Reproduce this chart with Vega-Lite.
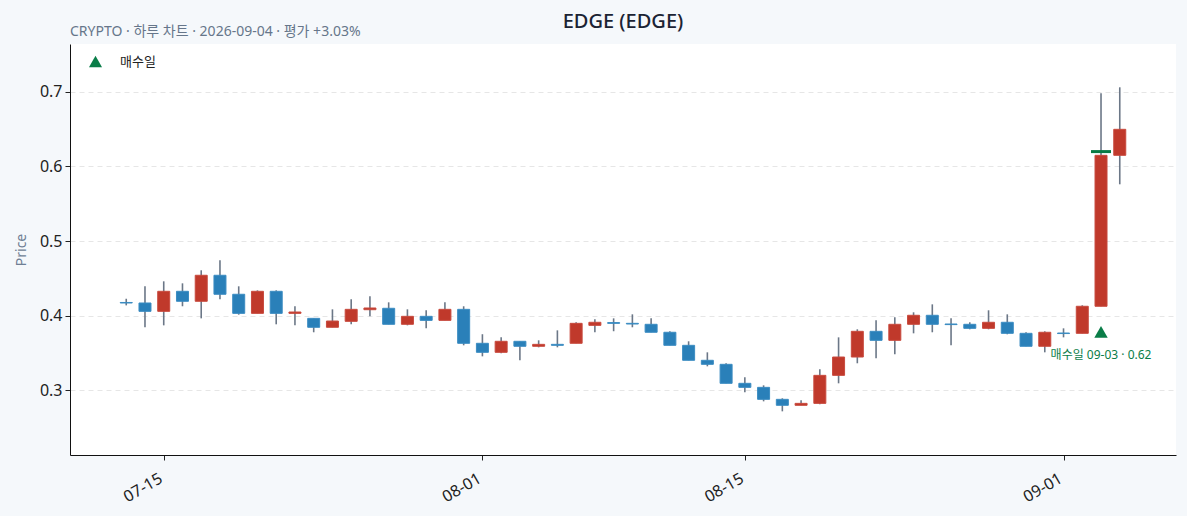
{
  "$schema": "https://vega.github.io/schema/vega-lite/v6.json",
  "autosize": {"type": "none"},
  "padding": {"left": 70, "top": 44, "right": 11, "bottom": 61},
  "width": 1106,
  "height": 411,
  "background": "#f5f8fb",
  "config": {
    "font": "Noto Sans, Noto Sans CJK KR, sans-serif",
    "view": {"fill": "#ffffff", "stroke": null}
  },
  "title": {
    "text": "EDGE (EDGE)",
    "subtitle": "CRYPTO · 하루 차트 · 2026-09-04 · 평가 +3.03%",
    "anchor": "start",
    "frame": "group",
    "fontSize": 20,
    "fontWeight": 500,
    "color": "#1b2333",
    "subtitleFontSize": 14,
    "subtitleColor": "#66768a",
    "subtitlePadding": -7,
    "offset": 5,
    "encoding": {"x": {"value": 553}, "align": {"value": "center"}}
  },
  "datasets": {
    "ohlc": [
      {"date": "2026-07-13", "open": 0.4175, "high": 0.4225, "low": 0.4136, "close": 0.4168},
      {"date": "2026-07-14", "open": 0.4168, "high": 0.4392, "low": 0.3842, "close": 0.4056},
      {"date": "2026-07-15", "open": 0.4056, "high": 0.4459, "low": 0.3868, "close": 0.4325},
      {"date": "2026-07-16", "open": 0.4325, "high": 0.4432, "low": 0.4124, "close": 0.4191},
      {"date": "2026-07-17", "open": 0.4191, "high": 0.4607, "low": 0.3962, "close": 0.4540},
      {"date": "2026-07-18", "open": 0.4540, "high": 0.4741, "low": 0.4217, "close": 0.4285},
      {"date": "2026-07-19", "open": 0.4285, "high": 0.4392, "low": 0.4011, "close": 0.4029},
      {"date": "2026-07-20", "open": 0.4029, "high": 0.4338, "low": 0.4029, "close": 0.4325},
      {"date": "2026-07-21", "open": 0.4325, "high": 0.4338, "low": 0.3882, "close": 0.4029},
      {"date": "2026-07-22", "open": 0.4029, "high": 0.4124, "low": 0.3868, "close": 0.4047},
      {"date": "2026-07-23", "open": 0.3962, "high": 0.3962, "low": 0.3775, "close": 0.3842},
      {"date": "2026-07-24", "open": 0.3842, "high": 0.4083, "low": 0.3842, "close": 0.3926},
      {"date": "2026-07-25", "open": 0.3922, "high": 0.4217, "low": 0.3882, "close": 0.4083},
      {"date": "2026-07-26", "open": 0.4078, "high": 0.4258, "low": 0.3989, "close": 0.4101},
      {"date": "2026-07-27", "open": 0.4097, "high": 0.4177, "low": 0.3882, "close": 0.3882},
      {"date": "2026-07-28", "open": 0.3882, "high": 0.4083, "low": 0.3868, "close": 0.3989},
      {"date": "2026-07-29", "open": 0.3989, "high": 0.4070, "low": 0.3828, "close": 0.3935},
      {"date": "2026-07-30", "open": 0.3935, "high": 0.4177, "low": 0.3935, "close": 0.4083},
      {"date": "2026-07-31", "open": 0.4083, "high": 0.4124, "low": 0.3600, "close": 0.3627},
      {"date": "2026-08-01", "open": 0.3627, "high": 0.3749, "low": 0.3452, "close": 0.3506},
      {"date": "2026-08-02", "open": 0.3506, "high": 0.3707, "low": 0.3493, "close": 0.3654},
      {"date": "2026-08-03", "open": 0.3654, "high": 0.3654, "low": 0.3399, "close": 0.3587},
      {"date": "2026-08-04", "open": 0.3587, "high": 0.3667, "low": 0.3573, "close": 0.3613},
      {"date": "2026-08-05", "open": 0.3613, "high": 0.3801, "low": 0.3573, "close": 0.3600},
      {"date": "2026-08-06", "open": 0.3627, "high": 0.3909, "low": 0.3627, "close": 0.3895},
      {"date": "2026-08-07", "open": 0.3868, "high": 0.3949, "low": 0.3775, "close": 0.3909},
      {"date": "2026-08-08", "open": 0.3905, "high": 0.3962, "low": 0.3789, "close": 0.3895},
      {"date": "2026-08-09", "open": 0.3895, "high": 0.4016, "low": 0.3842, "close": 0.3886},
      {"date": "2026-08-10", "open": 0.3882, "high": 0.3962, "low": 0.3775, "close": 0.3775},
      {"date": "2026-08-11", "open": 0.3775, "high": 0.3789, "low": 0.3600, "close": 0.3600},
      {"date": "2026-08-12", "open": 0.3600, "high": 0.3654, "low": 0.3399, "close": 0.3399},
      {"date": "2026-08-13", "open": 0.3399, "high": 0.3506, "low": 0.3318, "close": 0.3345},
      {"date": "2026-08-14", "open": 0.3345, "high": 0.3359, "low": 0.3090, "close": 0.3090},
      {"date": "2026-08-15", "open": 0.3090, "high": 0.3170, "low": 0.2969, "close": 0.3036},
      {"date": "2026-08-16", "open": 0.3036, "high": 0.3063, "low": 0.2848, "close": 0.2875},
      {"date": "2026-08-17", "open": 0.2875, "high": 0.2889, "low": 0.2714, "close": 0.2795},
      {"date": "2026-08-18", "open": 0.2795, "high": 0.2862, "low": 0.2795, "close": 0.2821},
      {"date": "2026-08-19", "open": 0.2821, "high": 0.3278, "low": 0.2808, "close": 0.3197},
      {"date": "2026-08-20", "open": 0.3197, "high": 0.3707, "low": 0.3090, "close": 0.3443},
      {"date": "2026-08-21", "open": 0.3443, "high": 0.3815, "low": 0.3359, "close": 0.3788},
      {"date": "2026-08-22", "open": 0.3788, "high": 0.3935, "low": 0.3426, "close": 0.3667},
      {"date": "2026-08-23", "open": 0.3667, "high": 0.3976, "low": 0.3479, "close": 0.3882},
      {"date": "2026-08-24", "open": 0.3882, "high": 0.4043, "low": 0.3761, "close": 0.4003},
      {"date": "2026-08-25", "open": 0.4003, "high": 0.4150, "low": 0.3775, "close": 0.3882},
      {"date": "2026-08-26", "open": 0.3886, "high": 0.3962, "low": 0.3600, "close": 0.3878},
      {"date": "2026-08-27", "open": 0.3882, "high": 0.3909, "low": 0.3815, "close": 0.3828},
      {"date": "2026-08-28", "open": 0.3828, "high": 0.4070, "low": 0.3815, "close": 0.3909},
      {"date": "2026-08-29", "open": 0.3909, "high": 0.4016, "low": 0.3748, "close": 0.3761},
      {"date": "2026-08-30", "open": 0.3761, "high": 0.3775, "low": 0.3587, "close": 0.3587},
      {"date": "2026-08-31", "open": 0.3587, "high": 0.3788, "low": 0.3506, "close": 0.3775},
      {"date": "2026-09-01", "open": 0.3765, "high": 0.3828, "low": 0.3707, "close": 0.3758},
      {"date": "2026-09-02", "open": 0.3761, "high": 0.4137, "low": 0.3761, "close": 0.4124},
      {"date": "2026-09-03", "open": 0.4124, "high": 0.6983, "low": 0.4124, "close": 0.6150},
      {"date": "2026-09-04", "open": 0.6150, "high": 0.7063, "low": 0.5761, "close": 0.6499}
    ],
    "buy": [
      {"date": "2026-09-03", "price": 0.62, "marker": 0.378, "labelPos": 0.347, "name": "매수일", "label": "매수일 09-03 · 0.62"}
    ]
  },
  "encoding": {
    "x": {
      "field": "date",
      "type": "temporal",
      "scale": {
        "type": "utc",
        "padding": 0,
        "domain": [
          {"year": 2026, "month": 7, "date": 10, "utc": true},
          {"year": 2026, "month": 9, "date": 7, "utc": true}
        ]
      },
      "axis": {
        "title": null,
        "format": "%m-%d",
        "values": [
          {"year": 2026, "month": 7, "date": 15, "utc": true},
          {"year": 2026, "month": 8, "date": 1, "utc": true},
          {"year": 2026, "month": 8, "date": 15, "utc": true},
          {"year": 2026, "month": 9, "date": 1, "utc": true}
        ],
        "labelAngle": -30,
        "labelAlign": "right",
        "labelBaseline": "top",
        "labelFontSize": 16,
        "labelColor": "#222222",
        "labelPadding": 10,
        "labelOffset": -7,
        "tickColor": "#222222",
        "tickSize": 5,
        "domainColor": "#111111",
        "grid": false
      }
    }
  },
  "layer": [
    {
      "data": {"name": "ohlc"},
      "mark": {"type": "rule", "color": "#6b7787", "strokeWidth": 1.6},
      "encoding": {
        "y": {
          "field": "low",
          "type": "quantitative",
          "scale": {"domain": [0.2128, 0.7644], "nice": false, "zero": false},
          "axis": {
            "title": "Price",
            "titleColor": "#6f7f94",
            "titleFontSize": 14,
            "titleFontWeight": "normal",
            "titlePadding": 11,
            "values": [0.3, 0.4, 0.5, 0.6, 0.7],
            "format": ".1f",
            "labelFontSize": 16,
            "labelColor": "#222222",
            "labelPadding": 3,
            "tickColor": "#222222",
            "tickSize": 5,
            "domainColor": "#111111",
            "gridColor": "#e6e6e6",
            "gridDash": [5, 4]
          }
        },
        "y2": {"field": "high"}
      }
    },
    {
      "data": {"name": "ohlc"},
      "mark": {"type": "bar", "size": 12, "strokeWidth": 1},
      "encoding": {
        "y": {"field": "open", "type": "quantitative"},
        "y2": {"field": "close"},
        "color": {
          "condition": {"test": "datum.close >= datum.open", "value": "#c0392b"},
          "value": "#2a80b9"
        },
        "stroke": {
          "condition": {"test": "datum.close >= datum.open", "value": "#c84a3e"},
          "value": "#3b8cc2"
        }
      }
    },
    {
      "data": {"name": "buy"},
      "mark": {"type": "tick", "orient": "horizontal", "size": 20, "thickness": 3, "color": "#087a44", "opacity": 1},
      "encoding": {
        "y": {"field": "price", "type": "quantitative"}
      }
    },
    {
      "data": {"name": "buy"},
      "mark": {"type": "point", "shape": "triangle-up", "filled": true, "size": 180, "opacity": 1},
      "encoding": {
        "y": {"field": "marker", "type": "quantitative"},
        "color": {
          "field": "name",
          "type": "nominal",
          "scale": {"domain": ["매수일"], "range": ["#0a7d48"]},
          "legend": {
            "title": null,
            "orient": "none",
            "legendX": 18,
            "legendY": 10,
            "symbolType": "triangle-up",
            "symbolSize": 170,
            "labelFontSize": 13,
            "labelColor": "#222222",
            "labelOffset": 17
          }
        }
      }
    },
    {
      "data": {"name": "buy"},
      "mark": {"type": "text", "fontSize": 12, "color": "#0a7d48", "align": "center", "baseline": "middle"},
      "encoding": {
        "y": {"field": "labelPos", "type": "quantitative"},
        "text": {"field": "label"}
      }
    }
  ]
}
